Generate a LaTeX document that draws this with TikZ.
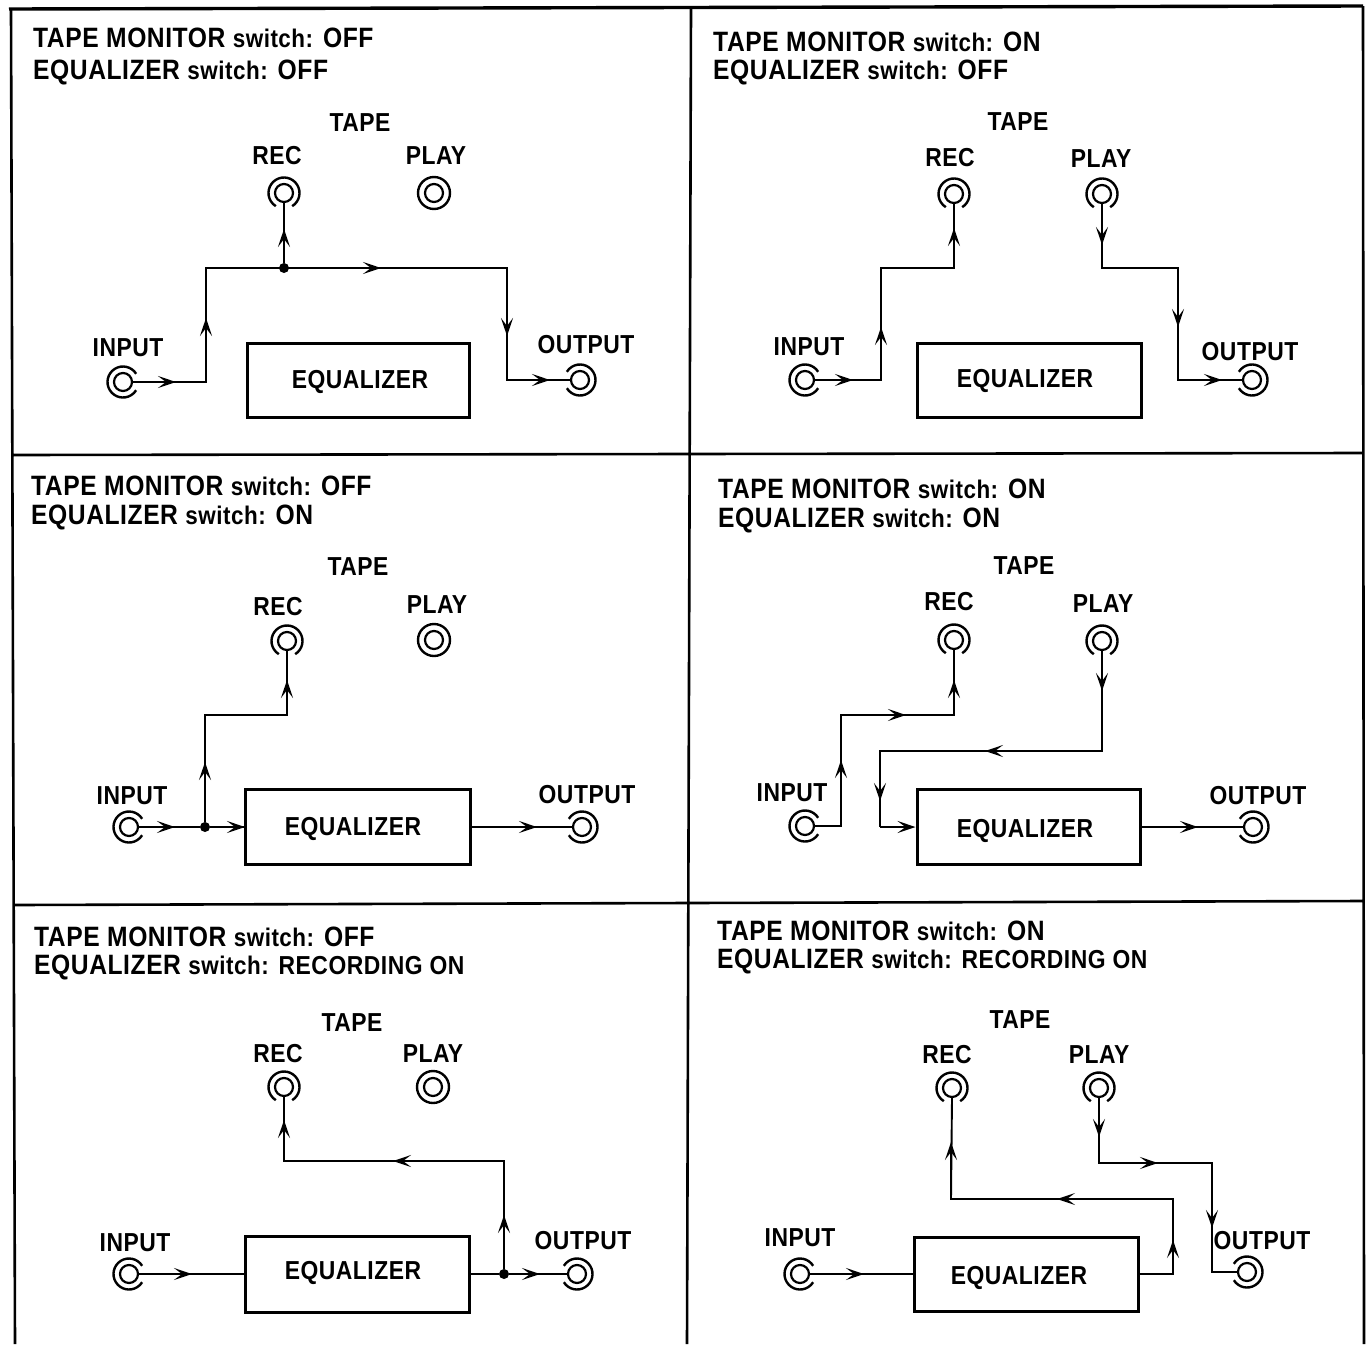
\documentclass[tikz,border=0pt]{standalone}
\usepackage{fontspec}
\setmainfont[FakeStretch=0.88,LetterSpace=2]{Liberation Sans}
\usetikzlibrary{arrows.meta}
\newcommand{\swt}{{\fontsize{25.5}{30}\selectfont switch:}}
\newcommand{\recon}{{\fontsize{26}{30}\selectfont RECORDING ON}}
% jack: name, position, angle of the gap in the outer ring
\newcommand{\jack}[3]{%
  \node[jackcore] (#1) at (#2) {};
  \draw[ring] ([shift={(#3+32:15.5pt)}]#1.center) arc[start angle=#3+32,end angle=#3+328,radius=15.5pt];}
\newcommand{\jackfull}[2]{%
  \node[jackcore] (#1) at (#2) {};
  \node[ringfull] (#1o) at (#2) {};}
\tikzset{
  frame/.style={line width=2.6pt,black},
  wire/.style={line width=1.9pt,black,line join=miter},
  arr/.style={-{Stealth[length=18pt,width=12pt,inset=8pt]}},
  box/.style={draw,line width=3pt,rectangle,inner sep=0pt},
  jackcore/.style={draw,circle,line width=2.2pt,minimum size=18pt,inner sep=0pt},
  ring/.style={line width=2.4pt,black},
  ringfull/.style={draw,circle,line width=2.4pt,minimum size=32pt,inner sep=0pt},
  dotnode/.style={circle,fill=black,minimum size=10pt,inner sep=0pt},
  lab/.style={font=\bfseries\fontsize{26}{30}\selectfont,inner sep=0pt,text height=19pt,text depth=0pt},
  head/.style={font=\bfseries\fontsize{28}{32}\selectfont,inner sep=0pt,text height=20pt,text depth=0pt,anchor=west},
}
\begin{document}
\begin{tikzpicture}[x=1pt,y=-1pt]
\useasboundingbox (0,0) rectangle (1368,1344);
% frame
\coordinate (ftl) at (9,9); \coordinate (ftr) at (1363,6);
\coordinate (fl) at (11,9); \coordinate (flb) at (15,1344);
\coordinate (fm) at (691,8); \coordinate (fmb) at (687,1344);
\coordinate (fr) at (1363,6); \coordinate (frb) at (1364,1344);
\coordinate (h1l) at (12,455); \coordinate (h1r) at (1363,453);
\coordinate (h2l) at (14,905); \coordinate (h2r) at (1363,901);
\draw[frame,line width=3.4pt] (ftl) -- (ftr);
\draw[frame] (fl) -- (flb) (fm) -- (fmb) (fr) -- (frb) (h1l) -- (h1r) (h2l) -- (h2r);

% ---------- panel 1
\node[head] (a1) at (33,37) {TAPE MONITOR \swt{} OFF};
\node[head] (a2) at (33,69) {EQUALIZER \swt{} OFF};
\node[lab] (atape) at (360,122) {TAPE};
\node[lab] (arecl) at (277,155) {REC};
\node[lab] (aplayl) at (436,155) {PLAY};
\node[lab] (ainl) at (128,347) {INPUT};
\node[lab] (aoutl) at (586,344) {OUTPUT};
\jack{arec}{284,193}{270}
\jackfull{aplay}{434,193}
\jack{ain}{123,382}{0}
\jack{aout}{580,380}{180}
\node[box,minimum width=222pt,minimum height=74pt] (abox) at (358,380) {};
\node[lab] (aeq) at (360,379) {EQUALIZER};
\node[dotnode] (adot) at (284,268) {};
\coordinate (ac1) at (206,382); \coordinate (ac2) at (206,268);
\coordinate (ac3) at (507,268); \coordinate (ac4) at (507,380);
\coordinate (at1) at (176,382); \coordinate (at2) at (206,318);
\coordinate (at3) at (284,229); \coordinate (at4) at (381,268);
\coordinate (at5) at (507,336); \coordinate (at6) at (550,380);
\draw[wire] (ain.east) -- (ac1) -- (ac2) -- (ac3) -- (ac4) -- (aout.west);
\draw[wire] (adot) -- (arec.south);
\draw[wire,arr] (ain.east) -- (at1);
\draw[wire,arr] (ac1) -- (at2);
\draw[wire,arr] (adot) -- (at3);
\draw[wire,arr] (adot) -- (at4);
\draw[wire,arr] (ac3) -- (at5);
\draw[wire,arr] (ac4) -- (at6);

% ---------- panel 2
\node[head] (b1) at (713,41) {TAPE MONITOR \swt{} ON};
\node[head] (b2) at (713,69) {EQUALIZER \swt{} OFF};
\node[lab] (btape) at (1018,121) {TAPE};
\node[lab] (brecl) at (950,157) {REC};
\node[lab] (bplayl) at (1101,158) {PLAY};
\node[lab] (binl) at (809,346) {INPUT};
\node[lab] (boutl) at (1250,351) {OUTPUT};
\jack{brec}{954,194}{270}
\jack{bplay}{1102,194}{270}
\jack{bin}{805,380}{0}
\jack{bout}{1252,380}{180}
\node[box,minimum width=224pt,minimum height=74pt] (bbox) at (1029,380) {};
\node[lab] (beq) at (1025,378) {EQUALIZER};
\coordinate (bc1) at (881,380); \coordinate (bc2) at (881,268); \coordinate (bc3) at (954,268);
\coordinate (bc4) at (1102,268); \coordinate (bc5) at (1178,268); \coordinate (bc6) at (1178,380);
\coordinate (bt1) at (853,380); \coordinate (bt2) at (881,327); \coordinate (bt3) at (954,228);
\coordinate (bt4) at (1102,245); \coordinate (bt5) at (1178,327); \coordinate (bt6) at (1222,380);
\draw[wire] (bin.east) -- (bc1) -- (bc2) -- (bc3) -- (brec.south);
\draw[wire] (bplay.south) -- (bc4) -- (bc5) -- (bc6) -- (bout.west);
\draw[wire,arr] (bin.east) -- (bt1);
\draw[wire,arr] (bc1) -- (bt2);
\draw[wire,arr] (bc3) -- (bt3);
\draw[wire,arr] (bplay.south) -- (bt4);
\draw[wire,arr] (bc5) -- (bt5);
\draw[wire,arr] (bc6) -- (bt6);

% ---------- panel 3
\node[head] (c1) at (31,485) {TAPE MONITOR \swt{} OFF};
\node[head] (c2) at (31,514) {EQUALIZER \swt{} ON};
\node[lab] (ctape) at (358,566) {TAPE};
\node[lab] (crecl) at (278,606) {REC};
\node[lab] (cplayl) at (437,604) {PLAY};
\node[lab] (cinl) at (132,795) {INPUT};
\node[lab] (coutl) at (587,794) {OUTPUT};
\jack{crec}{287,641}{270}
\jackfull{cplay}{434,640}
\jack{cin}{129,827}{0}
\jack{cout}{582,827}{180}
\node[box,minimum width=225pt,minimum height=75pt] (cbox) at (357.5,827) {};
\node[lab] (ceq) at (353,826) {EQUALIZER};
\node[dotnode] (cdot) at (205,827) {};
\coordinate (cc1) at (205,715); \coordinate (cc2) at (287,715);
\coordinate (ct1) at (175,827); \coordinate (ct2) at (245,827); \coordinate (ct3) at (205,762);
\coordinate (ct4) at (287,680); \coordinate (ct5) at (537,827);
\draw[wire] (cin.east) -- (cdot) -- (cbox.west);
\draw[wire] (cdot) -- (cc1) -- (cc2) -- (crec.south);
\draw[wire] (cbox.east) -- (cout.west);
\draw[wire,arr] (cin.east) -- (ct1);
\draw[wire,arr] (cdot) -- (ct2);
\draw[wire,arr] (cdot) -- (ct3);
\draw[wire,arr] (cc2) -- (ct4);
\draw[wire,arr] (cbox.east) -- (ct5);

% ---------- panel 4
\node[head] (d1) at (718,488) {TAPE MONITOR \swt{} ON};
\node[head] (d2) at (718,517) {EQUALIZER \swt{} ON};
\node[lab] (dtape) at (1024,565) {TAPE};
\node[lab] (drecl) at (949,601) {REC};
\node[lab] (dplayl) at (1103,603) {PLAY};
\node[lab] (dinl) at (792,792) {INPUT};
\node[lab] (doutl) at (1258,795) {OUTPUT};
\jack{drec}{954,640}{270}
\jack{dplay}{1102,641}{270}
\jack{din}{805,826}{0}
\jack{dout}{1253,827}{180}
\node[box,minimum width=223pt,minimum height=75pt] (dbox) at (1028.5,827) {};
\node[lab] (deq) at (1025,828) {EQUALIZER};
\coordinate (dc1) at (841,826); \coordinate (dc2) at (841,715); \coordinate (dc3) at (954,715);
\coordinate (dc4) at (1102,751); \coordinate (dc5) at (880,751); \coordinate (dc6) at (880,827);
\coordinate (dt1) at (841,760); \coordinate (dt2) at (906,715); \coordinate (dt3) at (954,680);
\coordinate (dt4) at (1102,691); \coordinate (dt5) at (985,751); \coordinate (dt6) at (880,801);
\coordinate (dt7) at (1198,827);
\draw[wire] (din.east) -- (dc1) -- (dc2) -- (dc3) -- (drec.south);
\draw[wire] (dplay.south) -- (dc4) -- (dc5) -- (dc6);
\draw[wire] (dbox.east) -- (dout.west);
\draw[wire,arr] (dc1) -- (dt1);
\draw[wire,arr] (dc2) -- (dt2);
\draw[wire,arr] (dc3) -- (dt3);
\draw[wire,arr] (dplay.south) -- (dt4);
\draw[wire,arr] (dc4) -- (dt5);
\draw[wire,arr] (dc5) -- (dt6);
\draw[wire,arr] (dc6) -- (dbox.west);
\draw[wire,arr] (dbox.east) -- (dt7);

% ---------- panel 5
\node[head] (e1) at (34,936) {TAPE MONITOR \swt{} OFF};
\node[head] (e2) at (34,964) {EQUALIZER \swt{} \recon};
\node[lab] (etape) at (352,1022) {TAPE};
\node[lab] (erecl) at (278,1053) {REC};
\node[lab] (eplayl) at (433,1053) {PLAY};
\node[lab] (einl) at (135,1242) {INPUT};
\node[lab] (eoutl) at (583,1240) {OUTPUT};
\jack{erec}{284,1087}{270}
\jackfull{eplay}{433,1087}
\jack{ein}{129,1274}{0}
\jack{eout}{577,1274}{180}
\node[box,minimum width=224pt,minimum height=76pt] (ebox) at (357,1274) {};
\node[lab] (eeq) at (353,1270) {EQUALIZER};
\node[dotnode] (edot) at (504,1274) {};
\coordinate (ec1) at (504,1161); \coordinate (ec2) at (284,1161);
\coordinate (et1) at (192,1274); \coordinate (et2) at (540,1274); \coordinate (et3) at (504,1215);
\coordinate (et4) at (393,1161); \coordinate (et5) at (284,1120);
\draw[wire] (ein.east) -- (ebox.west);
\draw[wire] (ebox.east) -- (edot) -- (eout.west);
\draw[wire] (edot) -- (ec1) -- (ec2) -- (erec.south);
\draw[wire,arr] (ein.east) -- (et1);
\draw[wire,arr] (edot) -- (et2);
\draw[wire,arr] (edot) -- (et3);
\draw[wire,arr] (ec1) -- (et4);
\draw[wire,arr] (ec2) -- (et5);

% ---------- panel 6
\node[head] (f1) at (717,930) {TAPE MONITOR \swt{} ON};
\node[head] (f2) at (717,958) {EQUALIZER \swt{} \recon};
\node[lab] (ftape) at (1020,1019) {TAPE};
\node[lab] (frecl) at (947,1054) {REC};
\node[lab] (fplayl) at (1099,1054) {PLAY};
\node[lab] (finl) at (800,1237) {INPUT};
\node[lab] (foutl) at (1262,1240) {OUTPUT};
\jack{frec}{952,1088}{270}
\jack{fplay}{1099,1088}{270}
\jack{fin}{800,1274}{0}
\jack{fout}{1247,1272}{180}
\node[box,minimum width=224pt,minimum height=74pt] (fbox) at (1026,1274) {};
\node[lab] (feq) at (1019,1275) {EQUALIZER};
\coordinate (fc1) at (1099,1163); \coordinate (fc2) at (1212,1163); \coordinate (fc3) at (1212,1272);
\coordinate (fc4) at (1173,1274); \coordinate (fc5) at (1173,1199); \coordinate (fc6) at (951,1199);
\coordinate (ft1) at (1099,1137); \coordinate (ft2) at (1158,1163); \coordinate (ft3) at (1212,1228);
\coordinate (ft4) at (1173,1240); \coordinate (ft5) at (1057,1199); \coordinate (ft6) at (951,1142);
\coordinate (ft7) at (864,1274);
\draw[wire] (fplay.south) -- (fc1) -- (fc2) -- (fc3) -- (fout.west);
\draw[wire] (fbox.east) -- (fc4) -- (fc5) -- (fc6) -- (frec.south);
\draw[wire] (fin.east) -- (fbox.west);
\draw[wire,arr] (fplay.south) -- (ft1);
\draw[wire,arr] (fc1) -- (ft2);
\draw[wire,arr] (fc2) -- (ft3);
\draw[wire,arr] (fc4) -- (ft4);
\draw[wire,arr] (fc5) -- (ft5);
\draw[wire,arr] (fc6) -- (ft6);
\draw[wire,arr] (fin.east) -- (ft7);
\end{tikzpicture}
\end{document}
